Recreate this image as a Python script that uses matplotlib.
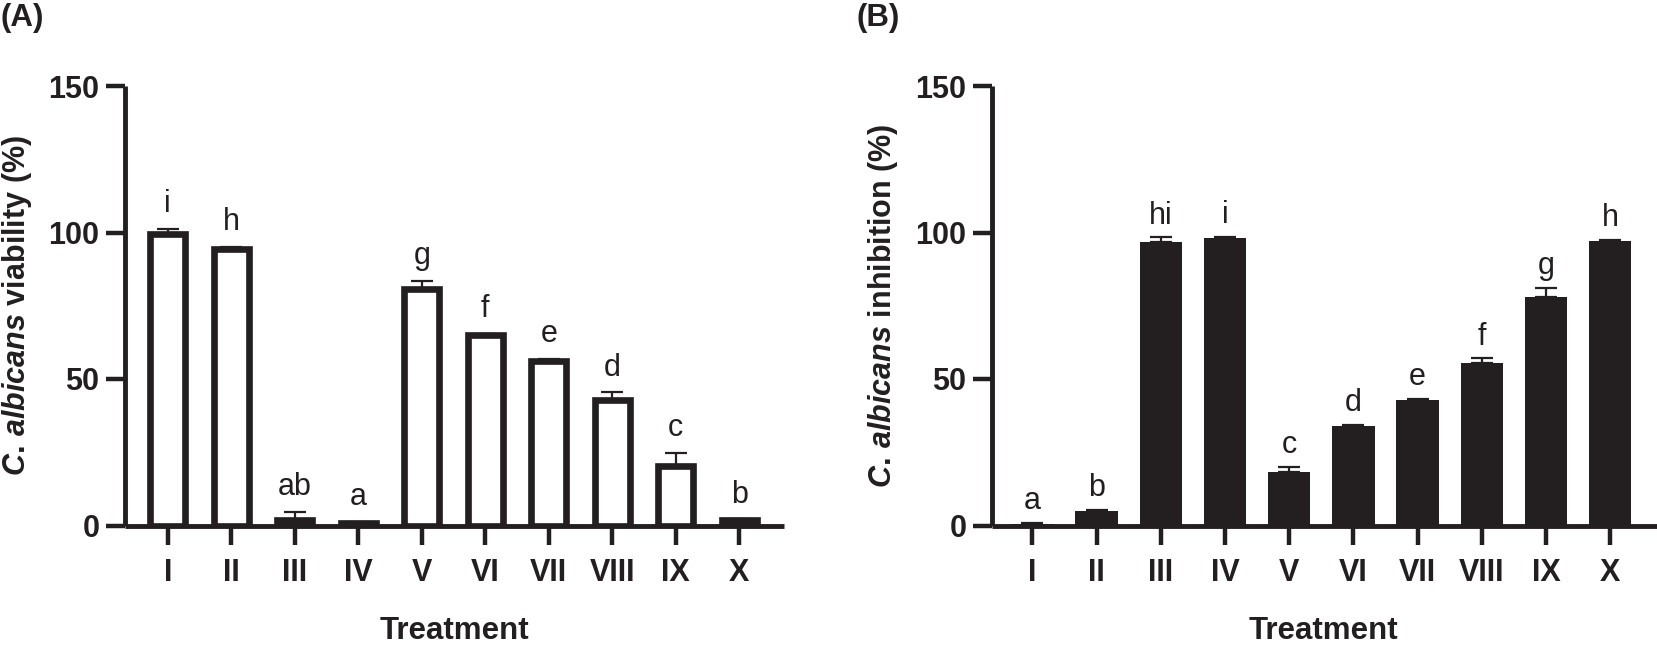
import numpy as np
import matplotlib.pyplot as plt

plt.rcParams['font.family'] = ['Liberation Sans', 'DejaVu Sans']
plt.rcParams['mathtext.fontset'] = 'custom'
plt.rcParams['mathtext.it'] = 'Liberation Sans:italic:bold'
plt.rcParams['mathtext.rm'] = 'Liberation Sans:bold'
plt.rcParams['mathtext.bf'] = 'Liberation Sans:bold'

INK = '#231f20'

treatments = ['I', 'II', 'III', 'IV', 'V', 'VI', 'VII', 'VIII', 'IX', 'X']

# (A) viability
viab_mean = [99.6, 94.2, 1.8, 0.9, 80.6, 65.0, 56.1, 43.0, 20.4, 1.8]
viab_err = [1.6, 0.9, 2.9, 0.4, 2.8, 0.5, 0.8, 2.5, 4.3, 0.3]
viab_letters = ['i', 'h', 'ab', 'a', 'g', 'f', 'e', 'd', 'c', 'b']

# (B) inhibition
inhib_mean = [0.6, 4.8, 96.8, 98.2, 18.1, 34.0, 42.7, 55.4, 78.0, 97.0]
inhib_err = [0.2, 0.4, 1.5, 0.2, 2.0, 0.3, 0.6, 1.6, 3.1, 0.5]
inhib_letters = ['a', 'b', 'hi', 'i', 'c', 'd', 'e', 'f', 'g', 'h']

W, H = 1657, 648
fig = plt.figure(figsize=(W / 100, H / 100), dpi=100)


def style_axes(ax, xlim):
    ax.set_xlim(*xlim)
    ax.set_ylim(0, 150)
    ax.set_yticks([0, 50, 100, 150])
    ax.set_xticks(np.arange(1, 11))
    ax.set_xticklabels(treatments)
    for s in ['top', 'right']:
        ax.spines[s].set_visible(False)
    for s in ['left', 'bottom']:
        ax.spines[s].set_linewidth(3.5)
        ax.spines[s].set_color(INK)
        ax.spines[s].set_capstyle('butt')
    ax.tick_params(axis='both', length=13.5, width=3.2, color=INK,
                   labelsize=22, labelcolor=INK)
    ax.tick_params(axis='x', pad=10)
    ax.tick_params(axis='y', pad=5)
    for lab in ax.get_xticklabels() + ax.get_yticklabels():
        lab.set_fontweight('bold')


def put_letters(ax, means, errs, letters, off):
    for i, (m, e, t) in enumerate(zip(means, errs, letters)):
        ax.annotate(t, (i + 1, m + e), xytext=(0, off), textcoords='offset points',
                    ha='center', va='baseline', fontsize=22, color=INK)


x = np.arange(1, 11)

# panel A
axA = fig.add_axes([125 / W, (H - 525.5) / H, (784 - 125) / W, (525.5 - 86) / H])
axA.bar(x, viab_mean, width=0.55, color='white', edgecolor=INK, linewidth=4.8, zorder=2)
axA.errorbar(x, viab_mean, yerr=[np.zeros(10), viab_err], fmt='none', ecolor=INK,
             elinewidth=1.6, capsize=7.8, capthick=1.6, zorder=1)
style_axes(axA, (0.326, 10.704))
put_letters(axA, viab_mean, viab_err, viab_letters, 12)
axA.set_ylabel(r'$\mathit{C.\!\ albicans}$ viability (%)', fontsize=22,
               fontweight='bold', color=INK)
axA.yaxis.set_label_coords(-0.138, 0.5)

# panel B
axB = fig.add_axes([992 / W, (H - 525.5) / H, (1657 - 992) / W, (525.5 - 86) / H])
axB.bar(x, inhib_mean, width=0.66, color=INK, edgecolor='none', zorder=2)
axB.errorbar(x, inhib_mean, yerr=[np.zeros(10), inhib_err], fmt='none', ecolor=INK,
             elinewidth=1.6, capsize=7.8, capthick=1.6, zorder=1)
style_axes(axB, (0.37, 10.73))
put_letters(axB, inhib_mean, inhib_err, inhib_letters, 10)
axB.set_ylabel(r'$\mathit{C.\!\ albicans}$ inhibition (%)', fontsize=22,
               fontweight='bold', color=INK)
axB.yaxis.set_label_coords(-0.138, 0.5)

# x titles and panel tags
fig.text(454.5 / W, 2 / H, 'Treatment', ha='center', va='bottom',
         fontsize=22.5, fontweight='bold', color=INK)
fig.text(1323 / W, 2 / H, 'Treatment', ha='center', va='bottom',
         fontsize=22.5, fontweight='bold', color=INK)
fig.text(0.0005, 0.996, '(A)', ha='left', va='top', fontsize=22.5,
         fontweight='bold', color=INK)
fig.text(856 / W, 0.996, '(B)', ha='left', va='top', fontsize=22.5,
         fontweight='bold', color=INK)

fig.savefig('out.png', dpi=100)
